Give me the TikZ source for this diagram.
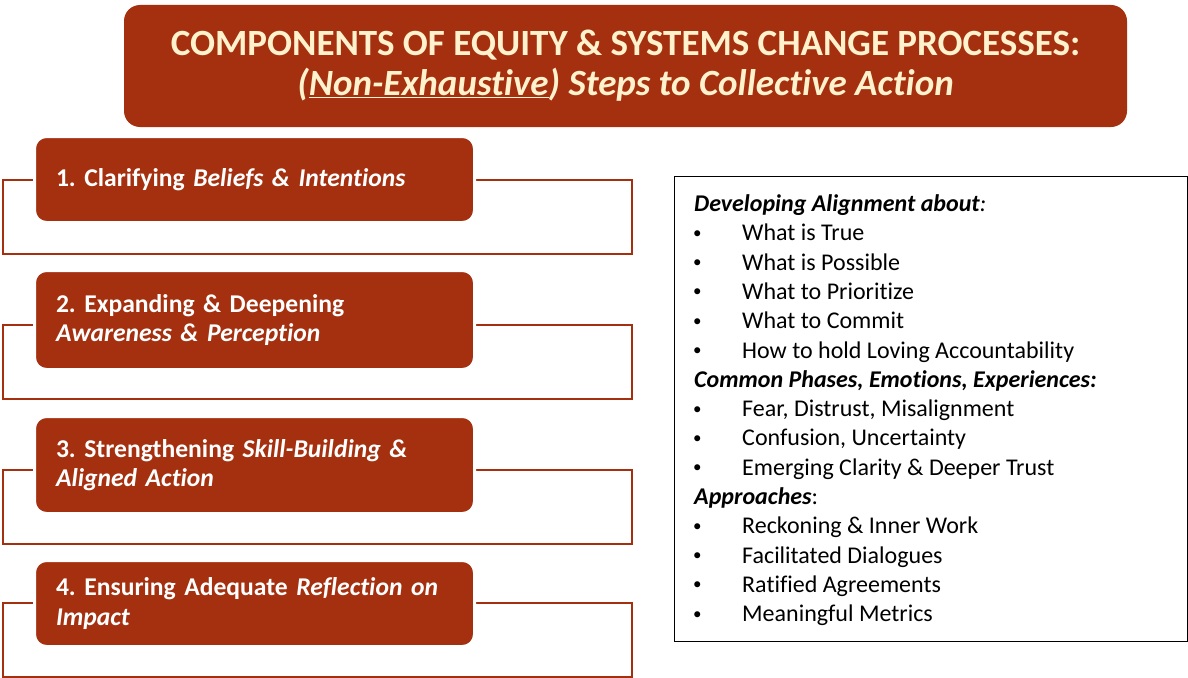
\documentclass[tikz,border=0pt]{standalone}
\usepackage{fontspec}
\setmainfont{Carlito}[Ligatures=NoCommon]
\usetikzlibrary{calc}
\definecolor{rust}{HTML}{A5300F}
\definecolor{cream}{HTML}{FFF2CC}
\frenchspacing

\begin{document}
\begin{tikzpicture}[x=1pt,y=-1pt,
    stepbox/.style={rectangle,rounded corners=12pt,fill=rust,draw=white,line width=3pt,text=white,
      font=\fontsize{25.6}{29.5}\selectfont\bfseries,align=left,text width=397pt,
      inner xsep=21.5pt,inner ysep=0pt,minimum width=440pt,anchor=west},
    frame/.style={draw=rust,line width=2.5pt},
    listtext/.style={anchor=base west,inner sep=0pt,font=\fontsize{24}{28}\selectfont}]
  \useasboundingbox (0,0) rectangle (1188,677);

  \node[fill=rust,rounded corners=16pt,minimum width=1003pt,minimum height=122pt,text=cream,
    align=center,font=\fontsize{37}{40}\selectfont\bfseries] (title) at (625.5,66)
    {COMPONENTS OF EQUITY \& SYSTEMS CHANGE PROCESSES:\\
     \textit{(\underline{Non-Exhaustive}) Steps to Collective Action}};

  \foreach \y in {180,325,470,603}
    \draw[frame] (3,\y) rectangle (632,\y+74);

  \node[stepbox,minimum height=86pt] (s1) at (33,179.5) {1. Clarifying \textit{Beliefs \& Intentions}};
  \node[stepbox,minimum height=99pt] (s2) at (33,320) {2. Expanding \& Deepening\\ \textit{Awareness \& Perception}};
  \node[stepbox,minimum height=97pt] (s3) at (33,465) {3. Strengthening \textit{Skill-Building \&}\\ \textit{Aligned Action}};
  \node[stepbox,minimum height=86pt] (s4) at (33,603.5) {4. Ensuring Adequate \textit{Reflection on}\\ \textit{Impact}};

  \node[draw=black,line width=1pt,minimum width=513pt,minimum height=465pt,
    anchor=north west,inner sep=0pt] (list) at (674,176) {};
  \foreach \n/\txt in {0/{\textbf{\textit{Developing Alignment about}}\textit{:}},
      6/{\textbf{\textit{Common Phases, Emotions, Experiences:}}},
      10/{\textbf{\textit{Approaches}}:}}
    \node[listtext] (h\n) at ($(list.north west)+(20,35.5+\n*29.3)$) {\txt};
  \foreach \n/\txt in {1/What is True,2/What is Possible,3/What to Prioritize,4/What to Commit,
      5/How to hold Loving Accountability,7/{Fear, Distrust, Misalignment},8/{Confusion, Uncertainty},
      9/Emerging Clarity \& Deeper Trust,11/Reckoning \& Inner Work,12/Facilitated Dialogues,
      13/Ratified Agreements,14/Meaningful Metrics}{
    \node[listtext,font=\fontsize{17}{20}\selectfont] (b\n) at ($(list.north west)+(19,33+\n*29.3)$) {\textbullet};
    \node[listtext] (t\n) at ($(list.north west)+(68,35.5+\n*29.3)$) {\txt};
  }
\end{tikzpicture}
\end{document}
